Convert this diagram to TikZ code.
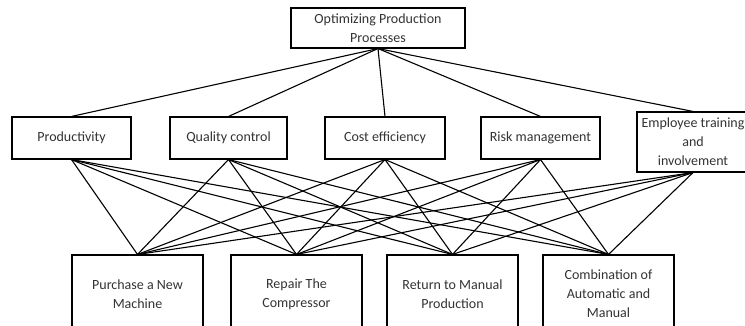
\documentclass[tikz,border=0pt]{standalone}
\usepackage{fontspec}
\setmainfont{Carlito}
\begin{document}
\begin{tikzpicture}[x=1pt,y=-1pt,
  box/.style={draw=black,line width=1.1pt,fill=white,align=center,inner sep=0pt,
    font=\fontsize{14}{19}\selectfont,text=black!80},
  link/.style={line width=1.1pt,black}]
\clip (0,0) rectangle (745,326);
\fill[white] (0,0) rectangle (745,326);
\node[box,minimum width=174,minimum height=40] (top) at (378,28) {Optimizing Production\\Processes};
\node[box,minimum width=119,minimum height=42] (p) at (71.5,138) {Productivity};
\node[box,minimum width=117,minimum height=42] (q) at (228.5,138) {Quality control};
\node[box,minimum width=120,minimum height=42] (c) at (385,138) {Cost efficiency};
\node[box,minimum width=119,minimum height=42] (r) at (540.5,138) {Risk management};
\node[box,minimum width=112,minimum height=60] (e) at (693,142) {\makebox[100pt]{Employee training}\\and\\involvement};
\node[box,minimum width=131,minimum height=78] (b1) at (137.5,294) {Purchase a New\\Machine};
\node[box,minimum width=131,minimum height=78] (b2) at (296.5,294) {Repair The\\Compressor};
\node[box,minimum width=131,minimum height=78] (b3) at (452.5,294) {Return to Manual\\Production};
\node[box,minimum width=131,minimum height=78] (b4) at (608.5,294) {Combination of\\Automatic and\\Manual};
\foreach \m in {p,q,c,r,e} {
  \draw[link] (top.south) -- (\m.north);
  \foreach \b in {b1,b2,b3,b4} {
    \draw[link] (\m.south) -- (\b.north);
  }
}
\end{tikzpicture}
\end{document}
